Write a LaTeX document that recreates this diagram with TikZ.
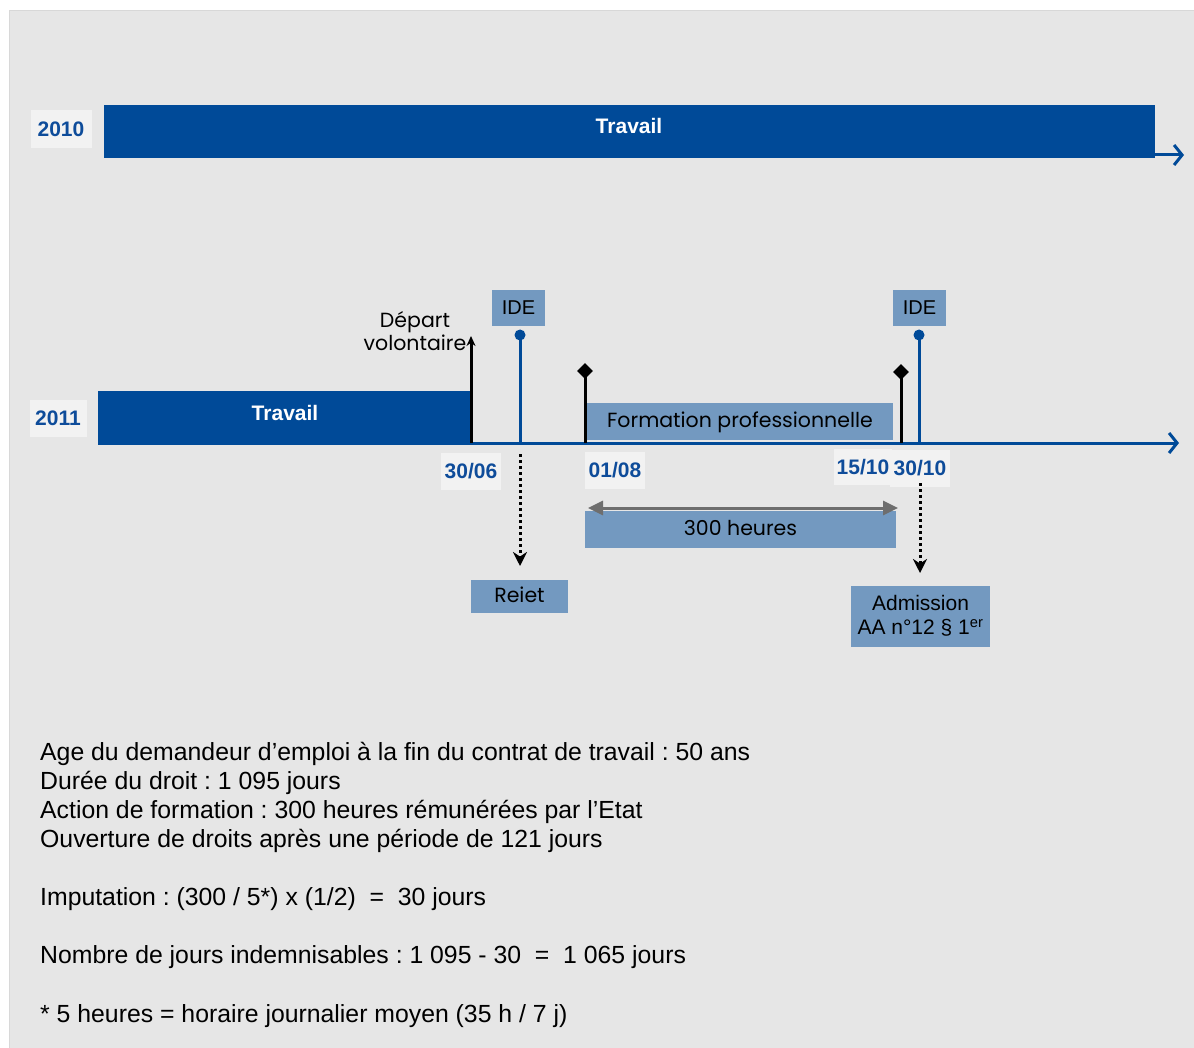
\documentclass[tikz,border=0pt]{standalone}
\usepackage{fontspec}
\setmainfont{Liberation Sans}
\newfontfamily\quirk{Poppins}
\usetikzlibrary{arrows.meta,shapes.geometric}
\definecolor{bg}{HTML}{E6E6E6}
\definecolor{bgline}{HTML}{D8D8D8}
\definecolor{dblue}{HTML}{004A98}
\definecolor{lblue}{HTML}{7399C0}
\definecolor{lbox}{HTML}{F2F2F2}
\definecolor{dtext}{HTML}{0E4C9A}
\definecolor{garrow}{HTML}{6E6E6E}
\frenchspacing
\tikzset{
  lbbase/.style={fill=lblue, draw=none, inner sep=0pt, text=black, align=center},
  lbbox/.style={lbbase, font=\quirk\fontsize{20.5}{24}\selectfont},
  lbsans/.style={lbbase, font=\fontsize{20}{23}\selectfont},
  barbox/.style={fill=dblue, draw=none, inner sep=0pt},
  datebox/.style={fill=lbox, draw=none, inner sep=0pt, text=dtext, font=\bfseries\fontsize{21}{25}\selectfont},
  bartext/.style={text=white, font=\bfseries\fontsize{21}{25}\selectfont},
  axisline/.style={dblue, line width=3pt, -{Straight Barb[length=8pt,width=20pt,line width=3pt]}},
  bluestem/.style={dblue, line width=3pt},
  blackstem/.style={black, line width=3pt},
  dotarrow/.style={black, line width=3pt, dash pattern=on 3pt off 3pt, -{Stealth[length=14pt,width=14pt]}},
  diam/.style={diamond, fill=black, inner sep=0pt, minimum size=16pt},
  dotnode/.style={circle, fill=dblue, inner sep=0pt, minimum size=11pt},
  bodytext/.style={anchor=west, inner sep=0pt, font=\fontsize{24.8}{29}\selectfont, text=black}
}
\begin{document}
\begin{tikzpicture}[x=1pt,y=-1pt]
\useasboundingbox (0,0) rectangle (1194,1048);
\fill[white] (0,0) rectangle (1194,1048);
\draw[fill=bg, draw=bgline, line width=1pt] (9,11) rectangle (1200,1054);

% 2010 row
\node[datebox, minimum width=61pt, minimum height=38pt] (y10) at (61,129) {2010};
\node[barbox, minimum width=1051pt, minimum height=53pt] (bar10) at (629.5,131.5) {};
\node[bartext] (t10) at (629,126) {Travail};
\coordinate (s10) at (1150,155);
\coordinate (e10) at (1184,155);
\draw[axisline] (s10) -- (e10);

% 2011 row
\node[datebox, minimum width=57pt, minimum height=37pt] (y11) at (58,418.5) {2011};
\node[barbox, minimum width=373pt, minimum height=53pt] (bar11) at (284.5,417.5) {};
\node[bartext] (t11) at (285,413) {Travail};
\coordinate (s11) at (98,443);
\coordinate (e11) at (1179,443);

% Formation box
\node[lbbox, minimum width=306pt, minimum height=37pt, text depth=3pt] (form) at (740,421.5) {Formation professionnelle};

\draw[axisline] (s11) -- (e11);

% Depart volontaire
\coordinate (dpb) at (471,443);
\coordinate (dpt) at (471,336);
\draw[blackstem, -{Stealth[length=10pt,width=9pt]}] (dpb) -- (dpt);
\node[align=center, inner sep=0pt, font=\quirk\fontsize{20.5}{23}\selectfont] (dep) at (415,331) {Départ\\volontaire};

% IDE 1
\node[lbsans, minimum width=53pt, minimum height=36pt] (ide1) at (518.5,308) {IDE};
\node[dotnode] (dot1) at (520,335) {};
\coordinate (b1) at (520,443);
\draw[bluestem] (dot1.center) -- (b1);

% Diamond 1
\node[diam] (dm1) at (585,371) {};
\coordinate (bd1) at (585,443);
\draw[blackstem] (dm1.center) -- (bd1);

% Diamond 2
\node[diam] (dm2) at (901,372) {};
\coordinate (bd2) at (901,443);
\draw[blackstem] (dm2.center) -- (bd2);

% IDE 2
\node[lbsans, minimum width=53pt, minimum height=36pt] (ide2) at (919.5,308) {IDE};
\node[dotnode] (dot2) at (919,335) {};
\coordinate (b2) at (919,443);
\draw[bluestem] (dot2.center) -- (b2);

% Dates
\node[datebox, minimum width=60pt, minimum height=37pt] (d1) at (471,471.5) {30/06};
\node[datebox, minimum width=60pt, minimum height=37pt] (d2) at (615,470.5) {01/08};
\node[datebox, minimum width=58pt, minimum height=36pt] (d3) at (863,467) {15/10};
\node[datebox, minimum width=60pt, minimum height=37pt] (d4) at (920,468.5) {30/10};

% Rejet
\node[lbbox, minimum width=97pt, minimum height=33pt, text depth=3pt] (rejet) at (519.5,596.5) {Reiet};
\coordinate (r0) at (520,454);
\coordinate (r1) at (520,566);
\draw[dotarrow] (r0) -- (r1);

% 300 heures
\node[lbbox, minimum width=311pt, minimum height=37pt, text depth=3pt] (h300) at (740.5,529.5) {300 heures};
\coordinate (ha) at (588,508);
\coordinate (hb) at (898,508);
\draw[garrow, line width=3pt, {Triangle[length=15pt,width=14pt]}-{Triangle[length=15pt,width=14pt]}] (ha) -- (hb);

% Admission
\node[lbsans, minimum width=139pt, minimum height=61pt, font=\fontsize{21}{24}\selectfont] (adm) at (920.5,616) {Admission\\AA n°12 § 1\textsuperscript{er}};
\coordinate (a0) at (920,483);
\coordinate (a1) at (920,573);
\draw[dotarrow] (a0) -- (a1);

% Bottom text
\node[bodytext] (l1) at (40,754) {Age du demandeur d’emploi à la fin du contrat de travail : 50 ans};
\node[bodytext] (l2) at (40,783) {Durée du droit : 1 095 jours};
\node[bodytext] (l3) at (40,812) {Action de formation : 300 heures rémunérées par l’Etat};
\node[bodytext] (l4) at (40,841) {Ouverture de droits après une période de 121 jours};
\node[bodytext] (l5) at (40,899) {Imputation : (300 / 5*) x (1/2) \ = \ 30 jours};
\node[bodytext] (l6) at (40,957) {Nombre de jours indemnisables : 1 095 - 30 \ = \ 1 065 jours};
\node[bodytext] (l7) at (40,1016) {* 5 heures = horaire journalier moyen (35 h / 7 j)};
\end{tikzpicture}
\end{document}
